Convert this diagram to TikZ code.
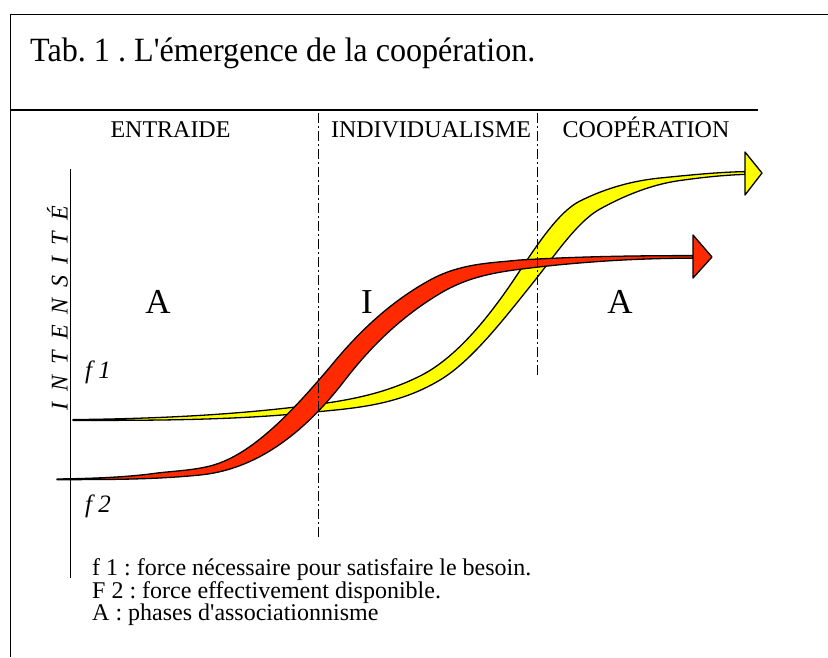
\documentclass[tikz,border=0pt]{standalone}
\usepackage{fontspec}
\setmainfont{Liberation Serif}
\definecolor{fy}{RGB}{255,255,0}
\definecolor{fr}{RGB}{255,42,0}
\frenchspacing
\begin{document}
\begin{tikzpicture}[x=1pt,y=-1pt,
  frame/.style={line width=1.3pt},
  band/.style={draw=black, line width=1.3pt, line join=round},
  sep/.style={line width=1.1pt, dash pattern=on 10pt off 3pt on 2pt off 3pt},
  lbl/.style={inner sep=0pt, anchor=base west},
  hdr/.style={inner sep=0pt, anchor=base, font=\fontsize{24}{28}\selectfont},
  big/.style={inner sep=0pt, anchor=base, font=\fontsize{35}{40}\selectfont},
  leg/.style={inner sep=0pt, anchor=base west, font=\fontsize{24}{28}\selectfont},
]
\useasboundingbox (0,0) rectangle (828,657);
% frame
\draw[frame] (828,14.5) -- (10.5,14.5) -- (10.5,657);
\draw[frame] (10.5,110) -- (758,110);
% axis
\coordinate (axtop) at (70.7,169);
\coordinate (axbot) at (70.7,578);
\draw[line width=1.3pt] (axtop) -- (axbot);
% title
\node[lbl, font=\fontsize{34}{40}\selectfont] (title) at (30,61)
  {\scalebox{0.945}[1]{Tab. 1 . L\textquotesingle émergence de la coopération.}};
% headers
\node[hdr] (h1) at (170.5,137) {ENTRAIDE};
\node[hdr] (h2) at (431,137) {INDIVIDUALISME};
\node[hdr] (h3) at (646,137) {COOPÉRATION};
% phase letters
\node[big] (pa1) at (158,313) {A};
\node[big] (pi) at (367,313) {I};
\node[big] (pa2) at (620,313) {A};
% axis label
\node[inner sep=0pt, anchor=base, rotate=90, font=\fontsize{24}{28}\selectfont\itshape] (ax) at (67.5,308)
  {I\hspace{11pt}N\hspace{11pt}T\hspace{11pt}E\hspace{11pt}N\hspace{11pt}S\hspace{11pt}I\hspace{11pt}T\hspace{11pt}É};
% f labels
\node[lbl, font=\fontsize{25}{28}\selectfont\itshape] (f1) at (85,378) {f 1};
\node[lbl, font=\fontsize{25}{28}\selectfont\itshape] (f2) at (85,512) {f 2};
% yellow band f1
\filldraw[band, fill=fy]
  (73,419.6) .. controls (148.7,418.8) and (224.3,415.6) .. (300,406.5)
  .. controls (340,401.7) and (380,396) .. (420,376)
  .. controls (451.7,360.2) and (483.3,325.5) .. (515,278)
  .. controls (536.7,245.5) and (558.3,211.8) .. (580,201)
  .. controls (606.7,187.7) and (633.3,180.7) .. (660,178)
  .. controls (688.3,175.2) and (716.7,172.2) .. (745,171.6)
  -- (745,174.4)
  .. controls (723.3,175.05) and (701.7,177.5) .. (680,180.5)
  .. controls (653.3,184.2) and (626.7,194.3) .. (600,209)
  .. controls (577.3,221.5) and (554.7,255.7) .. (532,284)
  .. controls (501.3,322.3) and (470.7,361.6) .. (440,380)
  .. controls (396.7,406) and (353.3,408.2) .. (310,412.5)
  .. controls (231,420.4) and (152,420.4) .. (73,420.4)
  -- cycle;
% red band f2
\filldraw[band, fill=fr]
  (57,479) .. controls (88,478.5) and (119,477.7) .. (150,474)
  .. controls (170,471) and (190,471) .. (210,466)
  .. controls (251.7,455.6) and (293.3,411) .. (335,361)
  .. controls (366.7,323) and (398.3,297.4) .. (430,280)
  .. controls (460,263.5) and (490,263) .. (520,260)
  .. controls (577.7,256.5) and (635.3,255.6) .. (693,255.6)
  -- (693,258.2)
  .. controls (638.7,258.2) and (584.3,261.5) .. (530,268)
  .. controls (500,271.6) and (470,275.5) .. (440,293.5)
  .. controls (408.3,312.5) and (376.7,338.8) .. (345,380)
  .. controls (296.7,442.8) and (248.3,470.2) .. (200,475)
  .. controls (152.3,479.8) and (104.7,479.6) .. (57,479.6)
  -- cycle;
% arrowheads
\filldraw[band, fill=fy] (745,152) -- (762,173) -- (745,195) -- cycle;
\filldraw[band, fill=fr] (693,235) -- (712,257) -- (693,278) -- cycle;
% separators
\coordinate (s1t) at (318.3,113);
\coordinate (s1b) at (318.3,538);
\coordinate (s2t) at (537.3,113);
\coordinate (s2b) at (537.3,376);
\draw[sep] (s1t) -- (s1b);
\draw[sep] (s2t) -- (s2b);
% legend
\node[leg] (l1) at (92,575) {f 1 : force nécessaire pour satisfaire le besoin.};
\node[leg] (l2) at (92,598) {F 2 : force effectivement disponible.};
\node[leg] (l3) at (92,620) {A : phases d\textquotesingle associationnisme};
\end{tikzpicture}
\end{document}
